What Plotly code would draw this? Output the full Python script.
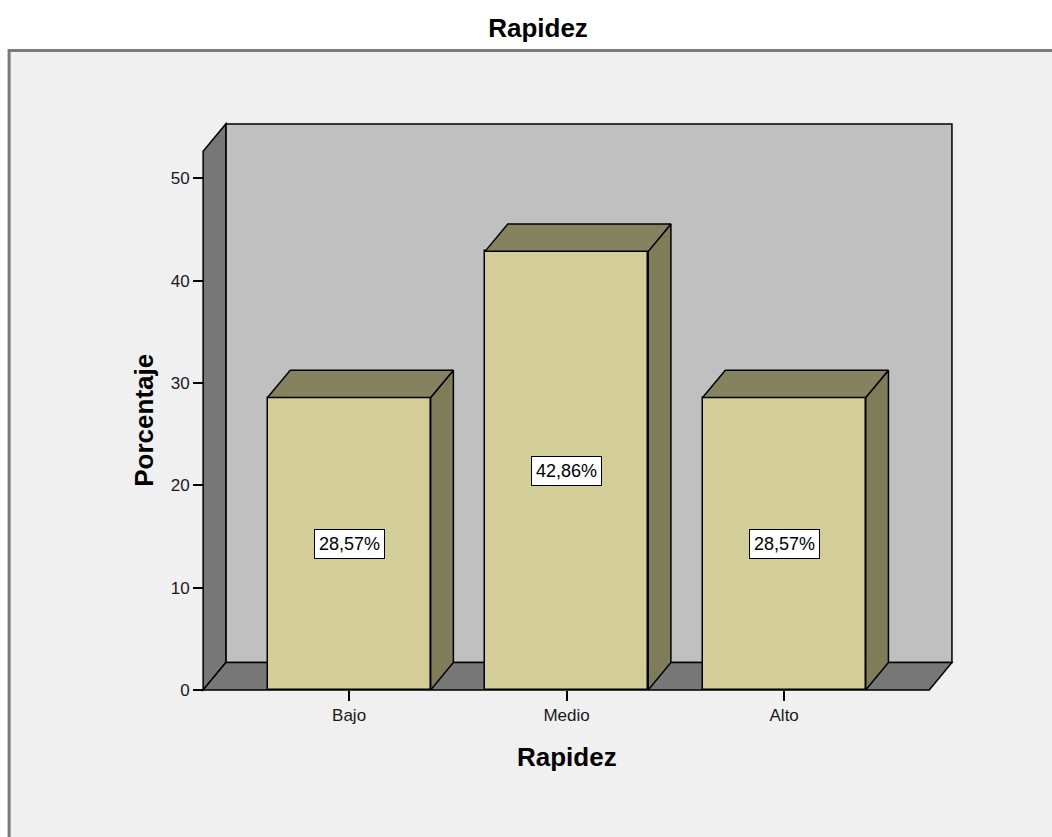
import plotly.graph_objects as go

# Rapidez: percentage per level
categories = ["Bajo", "Medio", "Alto"]
percentages = [28.57, 42.86, 28.57]
y_ticks = [0, 10, 20, 30, 40, 50]

FONT = "Liberation Sans, Arial, sans-serif"
FRONT = "#d3cd98"
TOP = "#858260"
SIDE = "#7f7c5a"
WALL = "#777777"
BACK = "#c0c0c0"
FRAME = "#f0f0f0"

# 3D box geometry in axis units
bar_w = 0.75
x_left, x_right = -0.671, 2.667      # front edges of the floor
wall_top = 52.64                     # height of the front edge of the left wall
dx, dy = 0.1044, 2.676               # depth offset of the box

# axis ranges (slightly padded so outlines are not clipped)
xmin, xmax = -0.69, 2.79
ymin, ymax = -0.3, 55.6

# pixel scale of the plot area
W_PAGE, H_PAGE = 1052, 837
ux, uy = 217.5, 10.24
front_px, floor_px = 203, 690
L = front_px - (x_left - xmin) * ux
W = (xmax - xmin) * ux
T = floor_px - ymax * uy
H = (ymax - ymin) * uy
R = W_PAGE - L - W
B = H_PAGE - T - H


def px_to_paper_x(px):
    return (px - L) / W


def px_to_paper_y(py):
    return (H_PAGE - B - py) / H


fig = go.Figure()

# front faces of the bars
fig.add_trace(go.Bar(
    x=list(range(len(categories))), y=percentages, width=bar_w,
    marker=dict(color=FRONT, line=dict(color="black", width=1.5)),
    hoverinfo="skip", showlegend=False,
))

# top and side faces of each bar
h = bar_w / 2
for i, v in enumerate(percentages):
    fig.add_trace(go.Scatter(
        x=[i + h, i + h + dx, i + h + dx, i + h, i + h],
        y=[0, dy, v + dy, v, 0],
        mode="lines", fill="toself", fillcolor=SIDE,
        line=dict(color="black", width=1.5),
        hoverinfo="skip", showlegend=False,
    ))
    fig.add_trace(go.Scatter(
        x=[i - h, i + h, i + h + dx, i - h + dx, i - h],
        y=[v, v, v + dy, v + dy, v],
        mode="lines", fill="toself", fillcolor=TOP,
        line=dict(color="black", width=1.5),
        hoverinfo="skip", showlegend=False,
    ))

shapes = [
    # outer chart frame
    dict(type="rect", xref="paper", yref="paper", layer="below",
         x0=px_to_paper_x(9), x1=px_to_paper_x(1070),
         y0=px_to_paper_y(860), y1=px_to_paper_y(50),
         fillcolor=FRAME, line=dict(color="#7a7a7a", width=3)),
    # back wall
    dict(type="rect", xref="x", yref="y", layer="below",
         x0=x_left + dx, x1=x_right + dx, y0=dy, y1=wall_top + dy,
         fillcolor=BACK, line=dict(color="black", width=1.5)),
    # left wall
    dict(type="path", xref="x", yref="y", layer="below",
         path=(f"M {x_left},0 L {x_left},{wall_top} "
               f"L {x_left + dx},{wall_top + dy} L {x_left + dx},{dy} Z"),
         fillcolor=WALL, line=dict(color="black", width=1.5)),
    # floor
    dict(type="path", xref="x", yref="y", layer="below",
         path=(f"M {x_left},0 L {x_right},0 "
               f"L {x_right + dx},{dy} L {x_left + dx},{dy} Z"),
         fillcolor=WALL, line=dict(color="black", width=1.5)),
]

# value labels on the bar fronts
annotations = [
    dict(x=i, y=v / 2, xref="x", yref="y",
         text=f"{v:.2f}".replace(".", ",") + "%", showarrow=False,
         font=dict(family=FONT, size=18, color="black"),
         bgcolor="white", bordercolor="black", borderwidth=1, borderpad=4)
    for i, v in enumerate(percentages)
]

# axis titles, centred on the categories and on the front wall edge
annotations.append(dict(
    x=1, xref="x", y=px_to_paper_y(757), yref="paper",
    text="<b>Rapidez</b>", showarrow=False,
    xanchor="center", yanchor="middle",
    font=dict(family=FONT, size=26, color="black")))
annotations.append(dict(
    x=px_to_paper_x(143), xref="paper", y=wall_top / 2, yref="y",
    text="<b>Porcentaje</b>", showarrow=False, textangle=-90,
    xanchor="center", yanchor="middle",
    font=dict(family=FONT, size=26, color="black")))

fig.update_layout(
    width=W_PAGE, height=H_PAGE,
    margin=dict(l=L, r=R, t=T, b=B, autoexpand=False),
    paper_bgcolor="white", plot_bgcolor=FRAME,
    title=dict(text="<b>Rapidez</b>", x=538 / W_PAGE, xanchor="center",
               y=1 - 28 / H_PAGE, yanchor="middle", yref="container",
               font=dict(family=FONT, size=26, color="black")),
    shapes=shapes, annotations=annotations,
    xaxis=dict(
        range=[xmin, xmax], anchor="free",
        position=(0 - ymin) / (ymax - ymin),
        tickmode="array", tickvals=list(range(len(categories))),
        ticktext=categories,
        ticks="outside", ticklen=10, tickwidth=1.5, tickcolor="black",
        showgrid=False, zeroline=False, showline=False,
        tickfont=dict(family=FONT, size=17, color="#1a1a1a"),
    ),
    yaxis=dict(
        range=[ymin, ymax], anchor="free",
        position=(x_left - xmin) / (xmax - xmin),
        tickmode="array", tickvals=y_ticks,
        ticks="outside", ticklen=10, tickwidth=1.5, tickcolor="black",
        showgrid=False, zeroline=False, showline=False,
        tickfont=dict(family=FONT, size=17, color="#1a1a1a"),
    ),
    bargap=0,
)

fig.write_html("out.html")
